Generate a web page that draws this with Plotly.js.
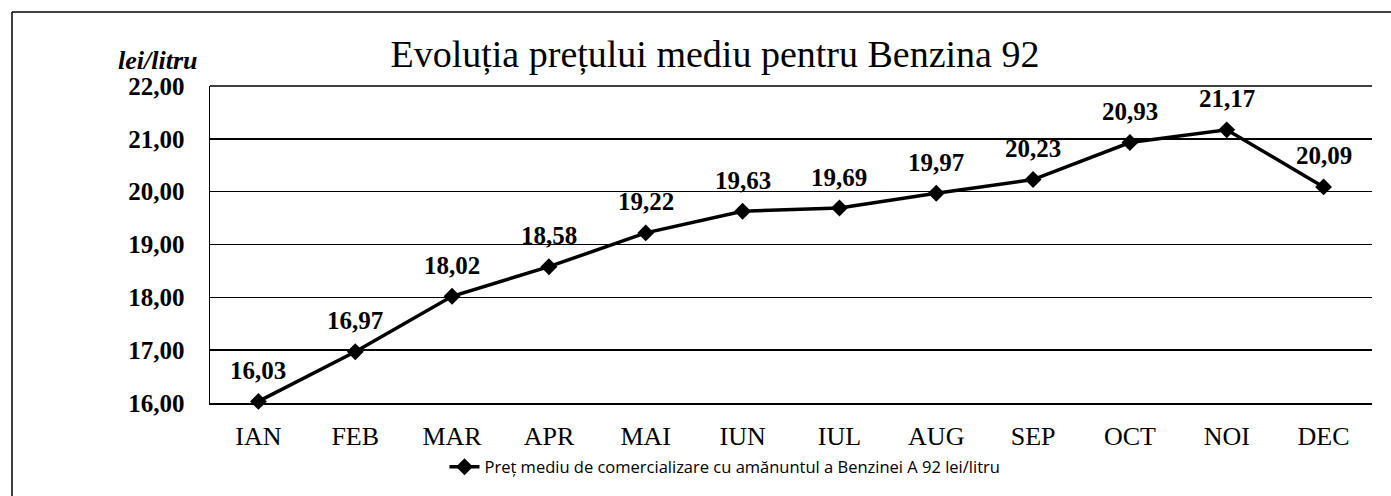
<!DOCTYPE html>
<html>
<head>
<meta charset="utf-8">
<script src="https://cdn.plot.ly/plotly-3.0.1.min.js"></script>
<style>html,body{margin:0;padding:0;background:#fff;}#chart{width:1391px;height:496px;}</style>
</head>
<body>
<div id="chart"></div>
<script>
const months = ["IAN","FEB","MAR","APR","MAI","IUN","IUL","AUG","SEP","OCT","NOI","DEC"];
const prices = [16.03,16.97,18.02,18.58,19.22,19.63,19.69,19.97,20.23,20.93,21.17,20.09];
const seriesName = "Preț mediu de comercializare cu amănuntul a Benzinei A 92 lei/litru";
const titleText = "Evoluția prețului mediu pentru Benzina 92";
const yUnit = "lei/litru";

const W = 1391, H = 496;
const L = 210, R = 19, T = 86, B = 93;
const pw = W - L - R, ph = H - T - B;
const px = x => (x - L) / pw;
const py = y => (H - B - y) / ph;

const labels = prices.map(v => v.toFixed(2).replace('.', ','));
const serif = 'Liberation Serif, Times New Roman, serif';

const trace = {
  x: months, y: prices, type: 'scatter', mode: 'lines+markers',
  name: seriesName,
  line: {color: '#000', width: 3.5},
  marker: {symbol: 'diamond', size: 13, color: '#000'},
  cliponaxis: false,
  hoverinfo: 'none'
};

const dataLabels = months.map((m, i) => ({
  x: m, y: prices[i], xref: 'x', yref: 'y', text: '<b>' + labels[i] + '</b>',
  showarrow: false, yshift: 31, xanchor: 'center', yanchor: 'middle',
  font: {family: serif, size: 25, color: '#000'}
}));

const layout = {
  width: W, height: H,
  margin: {l: L, r: R, t: T, b: B},
  paper_bgcolor: '#fff', plot_bgcolor: '#fff',
  separators: ', ',
  showlegend: true,
  legend: {orientation: 'h', x: px(725), xanchor: 'center', y: py(467), yanchor: 'middle',
    font: {family: 'Open Sans, sans-serif', size: 16.5, color: '#000'}},
  title: {text: titleText, font: {family: serif, size: 38, color: '#000'},
    xref: 'paper', x: px(715), xanchor: 'center', yref: 'container', y: 1 - 54/H, yanchor: 'middle'},
  xaxis: {range: [-0.5, 11.5], showgrid: false, zeroline: false, showline: true, linecolor: '#000', linewidth: 1.5,
    ticks: 'outside', ticklen: 9, tickcolor: 'rgba(0,0,0,0)',
    tickfont: {family: serif, size: 26, color: '#000'}, fixedrange: true},
  yaxis: {range: [16, 22], dtick: 1, tickformat: '.2f', showgrid: true, gridcolor: '#000', gridwidth: 1.5,
    zeroline: false, showline: true, linecolor: '#000', linewidth: 1.5,
    ticks: 'outside', ticklen: 19, tickcolor: 'rgba(0,0,0,0)',
    tickfont: {family: serif, size: 25, color: '#000', weight: 'bold'}, fixedrange: true},
  shapes: [
    {type: 'line', xref: 'paper', yref: 'paper', x0: 0, x1: 1, y0: 1, y1: 1, line: {color: '#000', width: 1.5}},
    {type: 'line', xref: 'paper', yref: 'paper', x0: px(12), x1: px(12), y0: py(12), y1: py(500), line: {color: '#000', width: 1.5}},
    {type: 'line', xref: 'paper', yref: 'paper', x0: px(12), x1: px(1395), y0: py(12), y1: py(12), line: {color: '#000', width: 1.5}}
  ],
  annotations: [
    {text: '<b><i>' + yUnit + '</i></b>', xref: 'paper', yref: 'paper', x: px(157), y: py(60),
      xanchor: 'center', yanchor: 'middle', showarrow: false,
      font: {family: serif, size: 26, color: '#000'}}
  ].concat(dataLabels)
};

Plotly.newPlot('chart', [trace], layout, {displayModeBar: false, staticPlot: true});
</script>
</body>
</html>
